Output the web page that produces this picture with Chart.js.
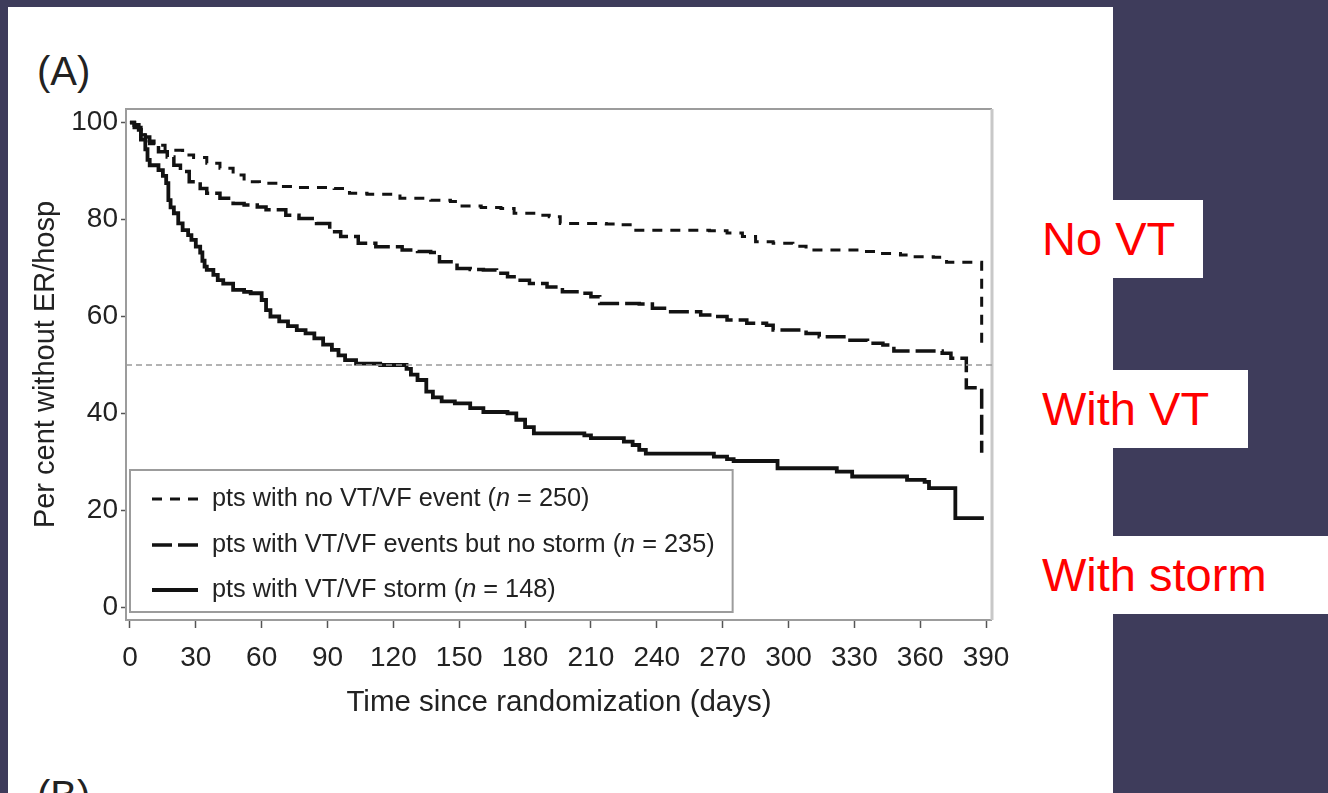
<!DOCTYPE html>
<html>
<head>
<meta charset="utf-8">
<title>Percent without ER/hospitalisation by VT/VF status</title>
<script src="https://cdn.jsdelivr.net/npm/chart.js@4.4.1/dist/chart.umd.min.js"></script>
<style>
  html, body { margin: 0; padding: 0; width: 1328px; height: 793px; overflow: hidden; background: #3e3c5b; }
  #panel { position: absolute; left: 8px; top: 7px; width: 1105px; height: 800px; background: #fff; }
  #wrap { position: absolute; left: 0; top: 0; width: 1113px; height: 793px; }
  .panel-label { position: absolute; left: 37px; font: 40px/40px "Liberation Sans", Arial, sans-serif; color: #222; white-space: nowrap; }
  .tag { position: absolute; left: 1030px; height: 78px; line-height: 78px; padding-left: 12px; box-sizing: border-box;
         background: #fff; color: #ff0000; font-size: 47px; font-family: "Liberation Sans", Arial, sans-serif; white-space: nowrap; }
</style>
</head>
<body>
<div id="panel"></div>
<div class="panel-label" style="top:51px">(A)</div>
<div class="panel-label" style="top:775px">(B)</div>
<div class="tag" style="top:200px;width:173px">No VT</div>
<div class="tag" style="top:370px;width:218px">With VT</div>
<div class="tag" style="top:536px;width:298px">With storm</div>
<div id="wrap"><canvas id="km"></canvas></div>

<script>
// Kaplan-Meier curves: [day, percent without ER visit / hospitalisation]
const NO_VT_CURVE = [
  [0,100],[2,99],[5,97.5],[8,96.2],[11,95.3],[16,94.3],[24,93.3],[29,92.8],[35,91.6],[41,90.6],
  [47,89.2],[52,87.8],[59,87.5],[68,86.8],[77,86.6],[93,86.4],[100,85.4],[108,85.2],[123,84.4],
  [137,84],[146,83.7],[150,82.8],[160,82.5],[169,82.3],[175,81.3],[185,80.9],[191,80.6],[196,79.2],
  [217,79.1],[223,78.9],[229,77.8],[264,77.7],[272,77.2],[279,76.5],[285,75.4],[293,75.1],[302,74.5],
  [308,73.7],[333,73.4],[342,73],[351,72.7],[357,72.3],[366,72.2],[372,71.2],[388,54]
];
const WITH_VT_CURVE = [
  [0,100],[2,99],[5,98.3],[7,97],[9,95.7],[13,94],[17,92.9],[20,91.2],[23,89.9],[27,87.8],
  [32,86.4],[35,85.4],[41,84.4],[47,83.3],[52,83],[58,82.6],[62,82],[71,80.9],[77,80.2],[85,79.2],
  [91,77.5],[96,76.5],[104,75.1],[112,74.4],[124,73.7],[131,73.4],[137,73.2],[141,71.3],[149,69.9],
  [155,69.7],[161,69.6],[167,68.9],[172,68.2],[175,67.5],[182,66.8],[190,66.1],[197,65.1],[205,64.8],
  [210,64.1],[214,62.7],[232,62.6],[238,61.7],[245,61],[260,60.3],[266,60],[272,59.3],[281,58.6],
  [290,58.2],[293,57.2],[308,56.5],[314,55.8],[328,55.1],[336,54.5],[343,54.1],[348,52.9],[370,52.4],
  [374,51.4],[381,45.3],[388,31.9]
];
const STORM_CURVE = [
  [0,100],[2,99.5],[4,98.5],[5,96.5],[7,94.5],[8,92.3],[9,91.2],[13,90.2],[15,89],[16.5,87.5],
  [17.5,84],[18.5,82.5],[20,81.3],[22,79.2],[24,77.8],[26.5,76.8],[28,75.8],[30,74.4],[32,73.2],
  [33,71.5],[34,70.3],[35,69.6],[38,68.6],[40,67.5],[42.5,66.8],[47,65.5],[52,65.1],[55,64.8],
  [60,63.4],[62,61.3],[64,60],[68,59],[72,58],[76,57.2],[80,56.5],[84,55.5],[88,54.2],[92,53.1],
  [95,52],[98,51],[103,50.3],[114,50],[126,49.2],[128,48],[131,46.9],[135,44.5],[138,43.3],[142,42.5],
  [148,42.1],[155,41.1],[161,40.3],[172,40],[176,38.7],[180,37.2],[184,35.9],[207,35.5],[210,34.9],
  [225,34.2],[229,33.5],[232,32.5],[235,31.7],[266,31.1],[272,30.6],[275,30.2],[295,28.7],[322,28],
  [329,27],[354,26.3],[362,25.9],[364,24.6],[376,18.4],[389,18.4]
];

const GROUP_NAMES  = ['pts with no VT/VF event', 'pts with VT/VF events but no storm', 'pts with VT/VF storm'];
const GROUP_COUNTS = [250, 235, 148];

const X_TICKS = [0, 30, 60, 90, 120, 150, 180, 210, 240, 270, 300, 330, 360, 390];
const Y_TICKS = [0, 20, 40, 60, 80, 100];
const X_RANGE = [-1.8, 392.7];
const Y_RANGE = [-2.6, 102.8];
const MEDIAN_LEVEL = 50;

const FONT = '"Liberation Sans", Arial, Helvetica, sans-serif';
const INK = '#222';
Chart.defaults.font.family = FONT;
Chart.defaults.color = INK;

const toPoints = curve => curve.map(([x, y]) => ({ x, y }));

// plot frame around the chart area
const frame = {
  id: 'frame',
  beforeDatasetsDraw(chart) {
    const { ctx, chartArea: a } = chart;
    ctx.save();
    ctx.lineWidth = 2;
    ctx.strokeStyle = '#9c9c9c';
    ctx.beginPath();
    ctx.moveTo(a.right, a.top); ctx.lineTo(a.left, a.top); ctx.lineTo(a.left, a.bottom); ctx.lineTo(a.right, a.bottom);
    ctx.stroke();
    ctx.lineWidth = 3;
    ctx.strokeStyle = '#c8c8c8';
    ctx.beginPath();
    ctx.moveTo(a.right, a.top); ctx.lineTo(a.right, a.bottom);
    ctx.stroke();
    ctx.restore();
  }
};

// boxed legend in the lower-left corner of the plot, italic "n"
const boxedLegend = {
  id: 'boxedLegend',
  afterDatasetsDraw(chart) {
    const { ctx, chartArea: a } = chart;
    const items = chart.data.datasets.filter(d => d.count !== undefined);
    const size = 25.3;
    const normal = `${size}px ${FONT}`;
    const italic = `italic ${size}px ${FONT}`;
    const parts = items.map(d => [
      [d.label + ' (', normal], ['n', italic], [' = ' + d.count + ')', normal]
    ]);
    ctx.save();
    const widths = parts.map(p => p.reduce((w, [t, f]) => { ctx.font = f; return w + ctx.measureText(t).width; }, 0));
    const left = a.left + 4, height = 142, top = a.bottom - 8 - height;
    const textX = left + 82;
    const width = textX - left + Math.max(...widths) + 18;
    ctx.fillStyle = '#fff';
    ctx.fillRect(left, top, width, height);
    ctx.strokeStyle = '#9c9c9c';
    ctx.lineWidth = 2;
    ctx.strokeRect(left, top, width, height);
    const rows = [top + 29, top + 75, top + 120];
    items.forEach((d, i) => {
      const y = rows[i];
      ctx.beginPath();
      ctx.setLineDash(d.borderDash || []);
      ctx.lineWidth = d.borderWidth;
      ctx.strokeStyle = d.borderColor;
      ctx.moveTo(left + 22, y); ctx.lineTo(left + 68, y);
      ctx.stroke();
      ctx.setLineDash([]);
      ctx.fillStyle = INK;
      ctx.textBaseline = 'middle';
      ctx.textAlign = 'left';
      let x = textX;
      parts[i].forEach(([t, f]) => { ctx.font = f; ctx.fillText(t, x, y); x += ctx.measureText(t).width; });
    });
    ctx.restore();
  }
};

const kmLine = (curve, i, dash, width) => ({
  label: GROUP_NAMES[i],
  count: GROUP_COUNTS[i],
  data: toPoints(curve),
  stepped: 'before',
  borderColor: '#121212',
  borderWidth: width,
  borderDash: dash,
  borderCapStyle: 'butt',
  pointRadius: 0,
  fill: false
});

new Chart(document.getElementById('km'), {
  type: 'line',
  data: {
    datasets: [
      {
        label: 'median',
        data: [{ x: X_RANGE[0], y: MEDIAN_LEVEL }, { x: X_RANGE[1], y: MEDIAN_LEVEL }],
        borderColor: '#9a9a9a',
        borderWidth: 1.5,
        borderDash: [6, 4],
        pointRadius: 0,
        fill: false
      },
      kmLine(NO_VT_CURVE, 0, [10, 8], 3),
      kmLine(WITH_VT_CURVE, 1, [20, 6], 3.5),
      kmLine(STORM_CURVE, 2, [], 3.8)
    ]
  },
  options: {
    responsive: true,
    maintainAspectRatio: false,
    animation: false,
    events: [],
    devicePixelRatio: 1,
    layout: { padding: { left: 0, top: 109, right: 121, bottom: 0 } },
    plugins: { legend: { display: false }, tooltip: { enabled: false } },
    scales: {
      x: {
        type: 'linear',
        min: X_RANGE[0],
        max: X_RANGE[1],
        afterFit: s => { s.height = 173; },
        afterBuildTicks: s => { s.ticks = X_TICKS.map(v => ({ value: v })); },
        border: { display: false },
        grid: { drawOnChartArea: false, drawTicks: true, tickLength: 8, tickColor: '#555', tickWidth: 1.5 },
        ticks: { font: { size: 28 }, color: INK, padding: 13, maxRotation: 0, autoSkip: false },
        title: { display: true, text: 'Time since randomization (days)', font: { size: 29.5 }, color: INK,
                 padding: { top: 0, bottom: 72 } }
      },
      y: {
        min: Y_RANGE[0],
        max: Y_RANGE[1],
        afterFit: s => { s.width = 126; },
        afterBuildTicks: s => { s.ticks = Y_TICKS.map(v => ({ value: v })); },
        border: { display: false },
        grid: { drawOnChartArea: false, drawTicks: true, tickLength: 5, tickColor: '#555', tickWidth: 1.5 },
        ticks: { font: { size: 28 }, color: INK, padding: 3 },
        title: { display: true, text: 'Per cent without ER/hosp', font: { size: 29 }, color: INK,
                 padding: { top: 29, bottom: 0 } }
      }
    }
  },
  plugins: [frame, boxedLegend]
});
</script>
</body>
</html>
